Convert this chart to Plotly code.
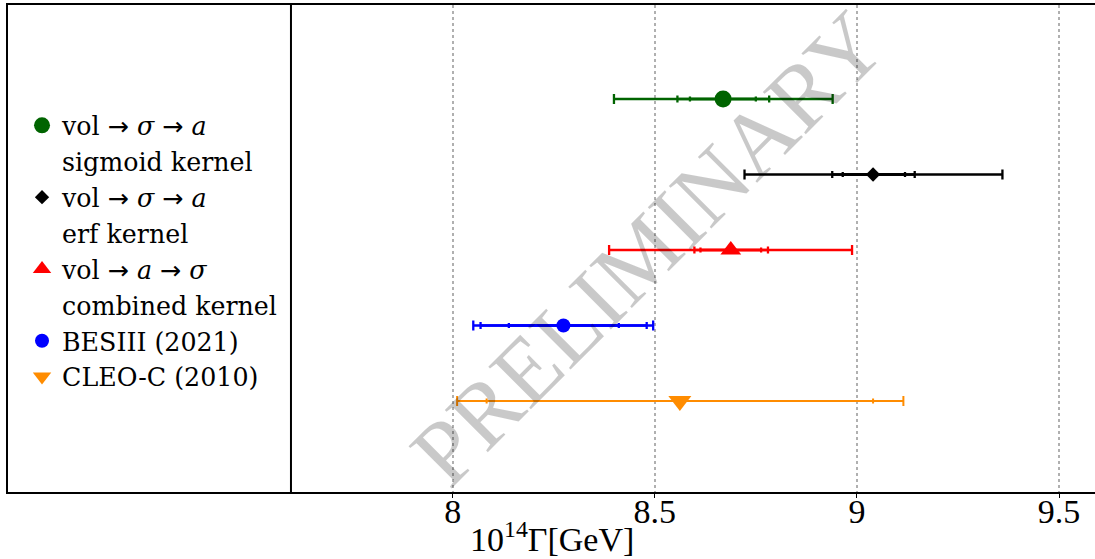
import plotly.graph_objects as go

# ---- data ----
ARROW = '<span style="font-family:DejaVu Sans">→</span>'
labels = [
    f"vol {ARROW} <i>σ</i> {ARROW} <i>a</i>",
    f"vol {ARROW} <i>σ</i> {ARROW} <i>a</i>",
    f"vol {ARROW} <i>a</i> {ARROW} <i>σ</i>",
    "BESIII (2021)",
    "CLEO-C (2010)",
]
sublabels = ["sigmoid kernel", "erf kernel", "combined kernel", None, None]
ypos = [4, 3, 2, 1, 0]
central = [8.669, 9.040, 8.688, 8.274, 8.562]
# outer (total) interval
outer_lo = [8.399, 8.722, 8.387, 8.051, 8.011]
outer_hi = [8.940, 9.360, 8.988, 8.496, 9.115]
# middle interval
mid_lo = [8.556, 8.939, 8.598, 8.069, 8.084]
mid_hi = [8.783, 9.143, 8.780, 8.480, 9.040]
# inner interval (None = not present)
inner_lo = [8.587, 8.965, 8.613, 8.139, None]
inner_hi = [8.750, 9.119, 8.763, 8.411, None]

colors = ["#006400", "#000000", "#ff0000", "#0000ff", "#ff8c00"]
symbols = ["circle", "diamond", "triangle-up", "circle", "triangle-down"]
msizes = [17, 11, 18, 14, 20]

xtick_vals = [8, 8.5, 9, 9.5]
xtick_text = ["8", "8.5", "9", "9.5"]
x_range = [6.9, 9.589]
y_range = [-1.205, 5.245]
divider_x = 7.6

FONT = "Liberation Serif"
LEGFONT = "DejaVu Serif"

fig = go.Figure()


def err(lo, hi, c, col, w, th):
    return dict(type="data", symmetric=False, array=[hi - c], arrayminus=[c - lo],
                color=col, thickness=th, width=w)


for i in range(len(labels)):
    c = central[i]
    col = colors[i]
    th = 2.0 if i == 4 else 2.3
    if inner_lo[i] is not None:
        fig.add_trace(go.Scatter(
            x=[c], y=[ypos[i]], mode="markers",
            marker=dict(size=1, color="rgba(0,0,0,0)"),
            error_x=err(inner_lo[i], inner_hi[i], c, col, 2.5, th),
            showlegend=False, hoverinfo="skip"))
    fig.add_trace(go.Scatter(
        x=[c], y=[ypos[i]], mode="markers",
        marker=dict(size=1, color="rgba(0,0,0,0)"),
        error_x=err(mid_lo[i], mid_hi[i], c, col, 2.5 if i == 4 else 3.5, th),
        showlegend=False, hoverinfo="skip"))
    fig.add_trace(go.Scatter(
        x=[c], y=[ypos[i]], mode="markers", name=labels[i],
        marker=dict(size=msizes[i], color=col, symbol=symbols[i]),
        error_x=err(outer_lo[i], outer_hi[i], c, col, 5, th),
        showlegend=True))
    if sublabels[i] is not None:
        # second line of the legend label
        fig.add_trace(go.Scatter(
            x=[None], y=[None], mode="markers", name=sublabels[i],
            marker=dict(size=1, color="rgba(0,0,0,0)"),
            showlegend=True, hoverinfo="skip"))

fig.add_shape(type="line", xref="x", yref="paper", x0=divider_x, x1=divider_x,
              y0=0, y1=1, line=dict(color="black", width=2))

fig.add_annotation(text="PRELIMINARY", xref="paper", yref="paper",
                   x=0.589, y=0.501, showarrow=False, textangle=-45,
                   font=dict(family=FONT, size=92, color="rgba(0,0,0,0.21)"))

fig.add_annotation(text="10<sup>14</sup>Γ[GeV]", xref="paper", yref="paper",
                   x=0.5, y=-0.092, yanchor="middle", showarrow=False,
                   font=dict(family=FONT, size=34, color="black"))

fig.update_layout(
    width=1095, height=559,
    margin=dict(l=8, r=0, t=5, b=67),
    paper_bgcolor="white", plot_bgcolor="white",
    font=dict(family=FONT, color="black"),
    showlegend=True,
    legend=dict(x=0.0129, y=0.80, xanchor="left", yanchor="top",
                font=dict(family=LEGFONT, size=25.3, color="black"),
                bgcolor="rgba(0,0,0,0)", valign="middle", tracegroupgap=0,
                itemwidth=30),
    xaxis=dict(range=x_range, tickvals=xtick_vals, ticktext=xtick_text,
               showgrid=True, gridcolor="#b0b0b0", griddash="dot", gridwidth=1.5,
               showline=True, linecolor="black", linewidth=2, mirror=True,
               ticks="outside", ticklen=4, tickwidth=1, tickcolor="black",
               ticklabelstandoff=-16,
               tickfont=dict(family=FONT, size=34, color="black"),
               zeroline=False),
    yaxis=dict(range=y_range, showgrid=False, zeroline=False,
               showticklabels=False, ticks="",
               showline=True, linecolor="black", linewidth=2, mirror=False),
)

fig.write_html("out.html")
